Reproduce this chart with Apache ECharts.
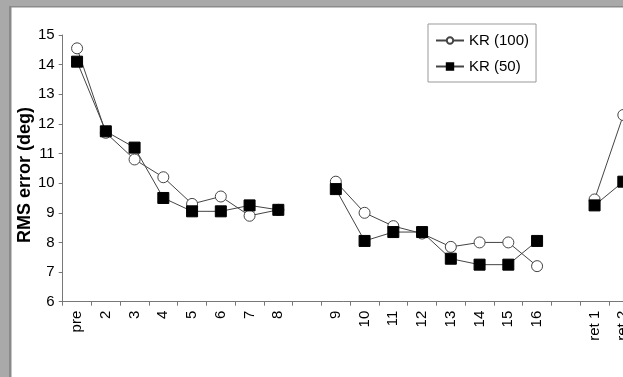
<!DOCTYPE html>
<html>
<head>
<meta charset="utf-8">
<script src="https://cdn.jsdelivr.net/npm/echarts@6/dist/echarts.min.js"></script>
<style>
html,body{margin:0;padding:0;background:#fff;}
#c{width:623px;height:377px;}
</style>
</head>
<body>
<div id="c"></div>
<script>
var categories = ['pre','2','3','4','5','6','7','8','','9','10','11','12','13','14','15','16','','ret 1','ret 2'];
var kr100 = [14.55, 11.7, 10.8, 10.2, 9.3, 9.55, 8.9, 9.1, null, 10.05, 9.0, 8.55, 8.3, 7.85, 8.0, 8.0, 7.2, null, 9.45, 12.3];
var kr50  = [14.1, 11.75, 11.2, 9.5, 9.05, 9.05, 9.25, 9.1, null, 9.8, 8.05, 8.35, 8.35, 7.45, 7.25, 7.25, 8.05, null, 9.25, 10.05];
var yTicks = {min: 6, max: 15, interval: 1};

var chart = echarts.init(document.getElementById('c'), null, {renderer: 'canvas'});
var font = 'Liberation Sans, Arial, sans-serif';
var option = {
  backgroundColor: '#fff',
  animation: false,
  grid: {left: 62.7, top: 35, width: 575, height: 266.7, containLabel: false, outerBoundsMode: 'none'},
  legend: {
    orient: 'vertical', left: 428, top: 24,
    padding: [9, 7, 8, 7], itemGap: 11, itemWidth: 28, itemHeight: 8,
    borderColor: '#999', borderWidth: 1, backgroundColor: '#fff',
    textStyle: {fontFamily: font, fontSize: 15, color: '#000'},
    data: ['KR (100)', 'KR (50)']
  },
  xAxis: {
    type: 'category', data: categories, boundaryGap: true,
    axisLine: {lineStyle: {color: '#777', width: 1}},
    axisTick: {show: true, length: 4, inside: false, lineStyle: {color: '#777'}, interval: 0},
    axisLabel: {rotate: 90, interval: 0, margin: 9, fontFamily: font, fontSize: 15, color: '#000'},
    splitLine: {show: false}
  },
  yAxis: {
    type: 'value', min: yTicks.min, max: yTicks.max, interval: yTicks.interval,
    axisLine: {show: true, lineStyle: {color: '#777', width: 1}},
    axisTick: {show: true, length: 4, inside: false, lineStyle: {color: '#777'}},
    axisLabel: {margin: 8, fontFamily: font, fontSize: 15, color: '#000'},
    splitLine: {show: false}
  },
  graphic: [
    {type: 'rect', shape: {x: 0, y: 0, width: 623, height: 6}, style: {fill: '#a9a9a9'}, z: 100},
    {type: 'rect', shape: {x: 0, y: 0, width: 9, height: 377}, style: {fill: '#a9a9a9'}, z: 100},
    {type: 'rect', shape: {x: 9, y: 6, width: 614, height: 1.5}, style: {fill: '#8a8a8a'}, z: 100},
    {type: 'rect', shape: {x: 9, y: 6, width: 2.5, height: 371}, style: {fill: '#8a8a8a'}, z: 100},
    {type: 'text', x: 25.5, y: 175, rotation: Math.PI / 2,
     style: {text: 'RMS error (deg)', fontFamily: font, fontSize: 18, fontWeight: 'bold', fill: '#000',
             align: 'center', verticalAlign: 'middle'}, z: 50}
  ],
  series: [
    {
      name: 'KR (100)', type: 'line', data: kr100, connectNulls: false,
      symbol: 'circle', symbolSize: 11, showSymbol: true,
      lineStyle: {color: '#444', width: 1},
      itemStyle: {color: '#fff', borderColor: '#444', borderWidth: 1},
      z: 2
    },
    {
      name: 'KR (50)', type: 'line', data: kr50, connectNulls: false,
      symbol: 'rect', symbolSize: 11, showSymbol: true,
      lineStyle: {color: '#444', width: 1},
      itemStyle: {color: '#000', borderColor: '#000', borderWidth: 1},
      z: 3
    }
  ]
};
chart.setOption(option);
</script>
</body>
</html>
